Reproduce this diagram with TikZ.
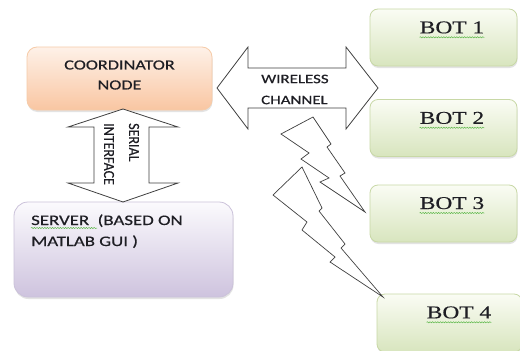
\documentclass[tikz,border=0pt]{standalone}
\usepackage{fontspec}
\setmainfont[FakeBold=0.35]{Liberation Serif}
\newfontfamily\calib[FakeBold=0.45]{Carlito}
\usetikzlibrary{shadows,decorations.pathmorphing}
\definecolor{orTop}{HTML}{FEF1E8}
\definecolor{orBot}{HTML}{F9C6A2}
\definecolor{orEdge}{HTML}{F6CBA8}
\definecolor{puTop}{HTML}{FBFAFD}
\definecolor{puBot}{HTML}{CEC3DE}
\definecolor{puEdge}{HTML}{CBC2DA}
\definecolor{grTop}{HTML}{FAFCF4}
\definecolor{grBot}{HTML}{D8E5BE}
\definecolor{grEdge}{HTML}{C8D8A6}
\definecolor{ink}{HTML}{1E1E24}
\definecolor{lineC}{HTML}{404040}
\definecolor{squig}{HTML}{5DB84A}
\newcommand{\hs}[1]{\scalebox{1.3}[1]{#1}}
\begin{document}
\begin{tikzpicture}[x=1pt,y=-1pt,
  box/.style={rounded corners=#1, line width=0.8pt, inner sep=0pt,
    drop shadow={opacity=0.22, shadow xshift=0.5pt, shadow yshift=-2pt}},
  coordbox/.style={box=10pt, draw=orEdge, top color=orTop, bottom color=orBot},
  serverbox/.style={box=14pt, draw=puEdge, top color=puTop, bottom color=puBot},
  botbox/.style={box=8pt, draw=grEdge, top color=grTop, bottom color=grBot,
    minimum width=147pt, minimum height=57pt},
  sanslbl/.style={font=\calib\fontsize{14}{20}\selectfont, text=ink},
  bottxt/.style={font=\fontsize{18}{20}\selectfont, text=ink, inner sep=0pt, anchor=base},
  squiggle/.style={draw=squig, line width=0.5pt, decorate,
    decoration={snake, amplitude=0.6pt, segment length=2.6pt}},
  arrowshape/.style={draw=lineC, fill=white, line width=0.8pt, line join=miter},
  bolt/.style={draw=lineC, line width=0.7pt, line join=miter}]
\path[use as bounding box, clip] (0,0) rectangle (520,351);
\fill[white] (0,0) rectangle (520,351);

% coordinator node
\node[coordbox, minimum width=185pt, minimum height=63pt] (coord) at (119.5,78.5) {};
\node[sanslbl, align=center] (coordtxt) at (119.5,75) {\hs{COORDINATOR}\\\hs{NODE}};

% server
\node[serverbox, minimum width=219pt, minimum height=95pt] (server) at (123.5,249.5) {};
\node[sanslbl, font=\calib\fontsize{14.5}{20}\selectfont, anchor=base west, inner sep=0pt] (srv1) at (31,225) {\hs{SERVER\ \ (BASED ON}};
\node[sanslbl, font=\calib\fontsize{14.5}{20}\selectfont, anchor=base west, inner sep=0pt] (srv2) at (31,246) {\hs{MATLAB GUI )}};
\draw[squiggle] ([yshift=-3pt]srv1.base west) -- ++(66,0);

% bots
\node[botbox] (bot1) at (443.5,37.5) {};
\node[botbox] (bot2) at (443.5,128) {};
\node[botbox] (bot3) at (443.5,213.5) {};
\node[botbox, minimum width=145pt, minimum height=58pt] (bot4) at (449.5,323) {};
\node[bottxt] (bot1t) at (452,33.3) {\hs{BOT 1}};
\node[bottxt] (bot2t) at (452,123.8) {\hs{BOT 2}};
\node[bottxt] (bot3t) at (452,209) {\hs{BOT 3}};
\node[bottxt] (bot4t) at (459,318.3) {\hs{BOT 4}};
\foreach \b in {bot1t,bot2t,bot3t,bot4t}
  \draw[squiggle] ([yshift=-4pt]\b.base west) -- ([yshift=-4pt]\b.base east);

% serial interface double arrow
\draw[arrowshape] (123,109) -- (178,127) -- (149,127) -- (149,183) -- (178,183)
  -- (123,202) -- (68,183) -- (94,183) -- (94,127) -- (68,127) -- cycle;
\node[rotate=-90, anchor=west, font=\calib\fontsize{14}{19}\selectfont, text=ink, inner sep=0pt] (serial) at (134,123) {\scalebox{1}[1.1]{SERIAL}};
\node[rotate=-90, anchor=west, font=\calib\fontsize{14}{19}\selectfont, text=ink, inner sep=0pt] (interface) at (109,123) {\scalebox{1}[1.1]{INTERFACE}};

% wireless channel double arrow
\draw[arrowshape] (217,88) -- (248,47) -- (248,68) -- (346,68) -- (346,47)
  -- (378,88) -- (346,129) -- (346,108) -- (248,108) -- (248,129) -- cycle;
\node[sanslbl, font=\calib\fontsize{13}{21}\selectfont, anchor=west, align=left, inner sep=0pt] (wireless) at (261,89.5) {\hs{WIRELESS}\\\hs{CHANNEL}};

% lightning bolts
\draw[bolt] (281,134) -- (313,117) -- (331,144) -- (327,147) -- (345,173) -- (340,176)
  -- (365,212) -- (320,182) -- (329,178) -- (301,159) -- (309,153) -- cycle;
\draw[bolt] (273,195) -- (302,167) -- (322,208) -- (319,211) -- (345,244) -- (341,248)
  -- (383,297) -- (330,262) -- (335,257) -- (302,230) -- (307,222) -- cycle;
\end{tikzpicture}
\end{document}
